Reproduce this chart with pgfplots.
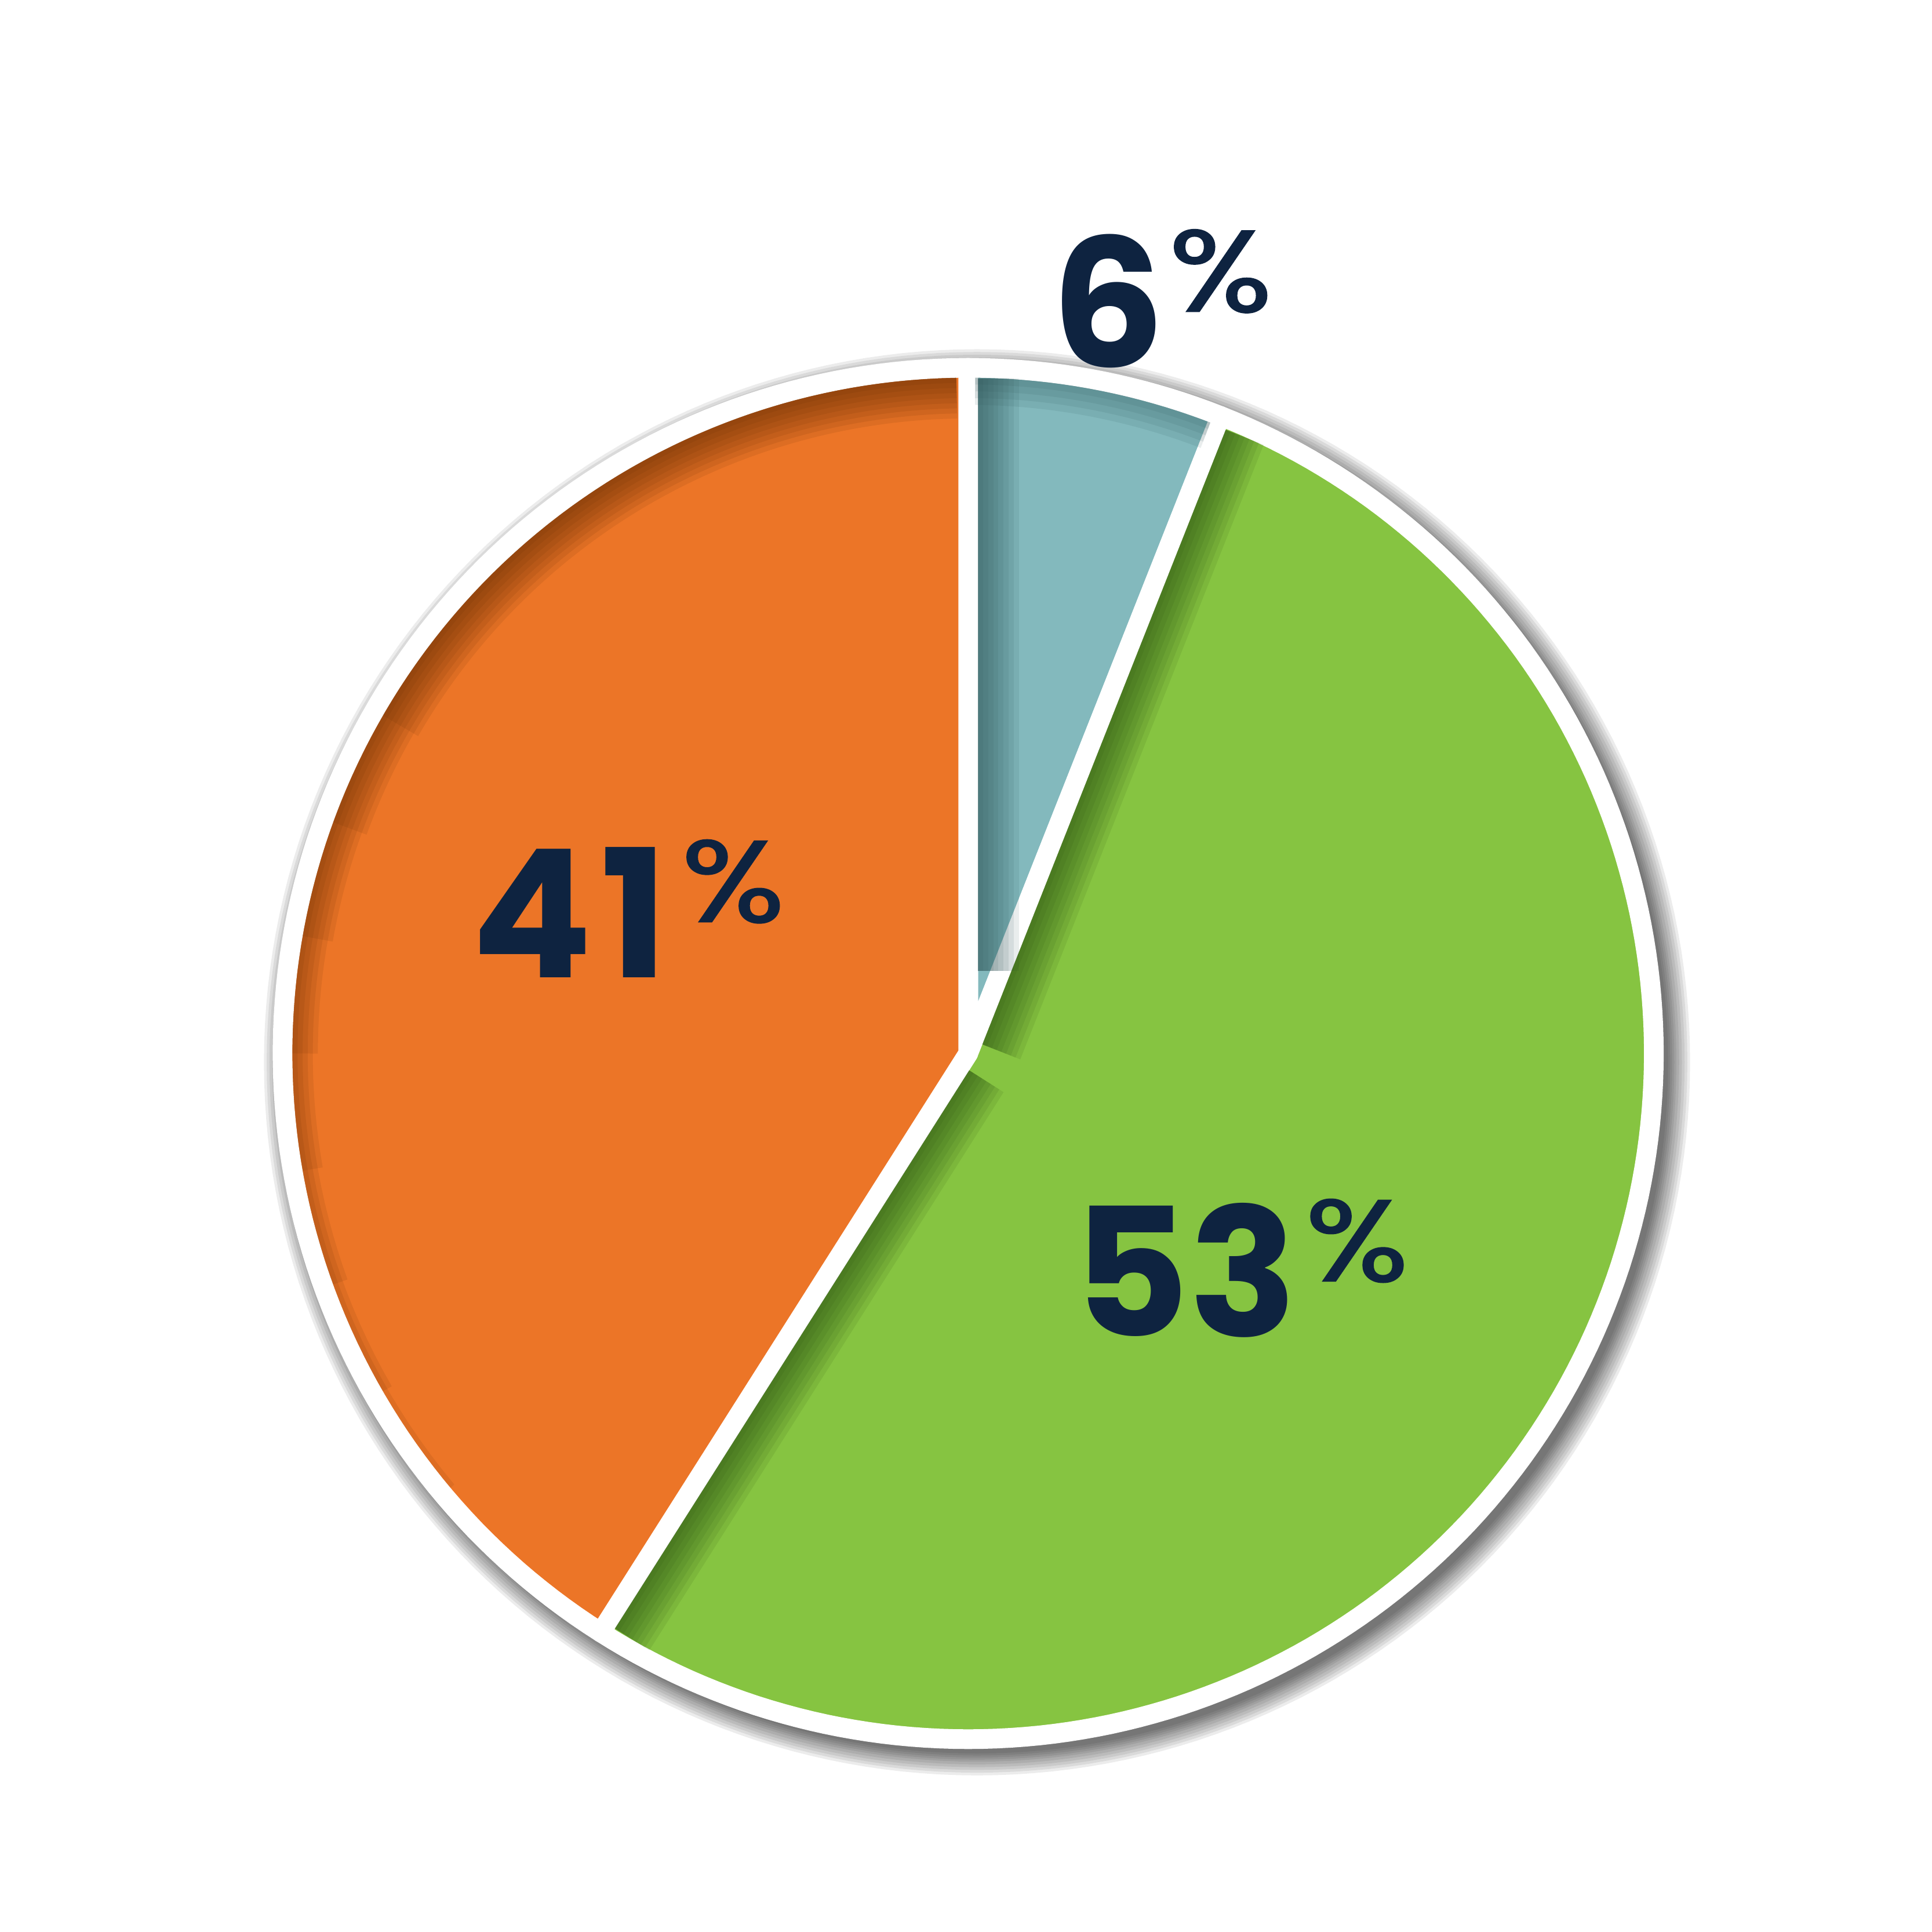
\documentclass[border=0pt]{standalone}
\usepackage{pgfplots}
\pgfplotsset{compat=1.18}
\usepackage{graphicx}
\usepackage{fontspec}
\setmainfont{Poppins}
\newfontfamily\pctfont{Poppins}[FakeBold=1.2]
\definecolor{cblue}{HTML}{83B9BD}
\definecolor{cgreen}{HTML}{86C441}
\definecolor{corange}{HTML}{EC7527}
\definecolor{cnavy}{HTML}{0E2340}
\definecolor{dblue}{HTML}{2A4F52}
\definecolor{dgreen}{HTML}{244A0F}
\definecolor{dorange}{HTML}{5A2800}
% slice values (percent)
\def\vblue{6}
\def\vgreen{53}
\def\vorange{41}
\pgfmathsetmacro\angA{90-3.6*\vblue}
\pgfmathsetmacro\angB{\angA-3.6*\vgreen}
\pgfmathsetmacro\angC{\angB-3.6*\vorange}
\pgfmathsetmacro\permA{\angA-90}
\pgfmathsetmacro\permB{\angB+90}
% band along a straight edge: #1 edge angle, #2 perpendicular angle, #3 colour, #4 width (pt), #5 opacity, #6 start radius
\newcommand\band[6]{%
  \addplot[draw=#3, line width={(#4)*1pt}, opacity=#5, data cs=polar,
    xshift={((1.45+(#4)/2)*cos(#2))*1pt}, yshift={((1.45+(#4)/2)*sin(#2))*1pt}]
    coordinates {(#1,#6) (#1,0.984)};}
\newcommand\bandset[4]{%
  \band{#1}{#2}{#3}{0.75}{0.1}{#4}\band{#1}{#2}{#3}{1.5}{0.1}{#4}%
  \band{#1}{#2}{#3}{2.25}{0.1}{#4}\band{#1}{#2}{#3}{3}{0.1}{#4}%
  \band{#1}{#2}{#3}{3.75}{0.1}{#4}\band{#1}{#2}{#3}{4.5}{0.1}{#4}%
  \band{#1}{#2}{#3}{5.25}{0.1}{#4}\band{#1}{#2}{#3}{6}{0.1}{#4}}
% band along an arc: #1 from, #2 to, #3 colour, #4 width, #5 opacity
\newcommand\arcband[5]{%
  \addplot[draw=#3, line width={(#4)*1pt}, opacity=#5, data cs=polar, domain=#1:#2, samples=80]
    {1-(1.45+(#4)/2)/100.98};}
\newcommand\shadowdisk[1]{%
  \addplot[fill=black, draw=none, fill opacity=0.075, data cs=polar, domain=0:360, samples=241,
    xshift=1.3pt, yshift=-1.3pt] {#1};}
\newcommand\lbl[2]{{\fontsize{26.3}{30}\selectfont\bfseries #1}\hspace{#2}%
  \raisebox{8.2pt}{\scalebox{1.18}[1]{\fontsize{17}{20}\pctfont\%}}}
\begin{document}
\begin{tikzpicture}
\begin{axis}[
  width=10cm, height=10cm, scale only axis, hide axis,
  xmin=-1.412, xmax=1.4056, ymin=-1.2812, ymax=1.5364,
]
\path (rel axis cs:0,0) (rel axis cs:1,1);
% shadow
\shadowdisk{1.040}\shadowdisk{1.036}\shadowdisk{1.032}\shadowdisk{1.028}\shadowdisk{1.024}
\shadowdisk{1.020}\shadowdisk{1.017}\shadowdisk{1.014}\shadowdisk{1.011}\shadowdisk{1.008}
% slices
\addplot[fill=cblue, draw=white, line width=2.9pt, line join=round, data cs=polar, domain=90:\angA, samples=20] {1} -- (axis cs:0,0) -- cycle;
\addplot[fill=cgreen, draw=white, line width=2.9pt, line join=round, data cs=polar, domain=\angA:\angB, samples=160] {1} -- (axis cs:0,0) -- cycle;
\addplot[fill=corange, draw=white, line width=2.9pt, line join=round, data cs=polar, domain=\angB:\angC, samples=120] {1} -- (axis cs:0,0) -- cycle;
% inner shading bands
\bandset{90}{0}{dblue}{0.12}
\bandset{\angA}{\permA}{dgreen}{0.02}
\bandset{\angB}{\permB}{dgreen}{0.02}
\arcband{91}{220}{dorange}{0.75}{0.1}
\arcband{91}{210}{dorange}{1.5}{0.1}
\arcband{91}{200}{dorange}{2.25}{0.1}
\arcband{91}{190}{dorange}{3}{0.1}
\arcband{91}{180}{dorange}{3.75}{0.1}
\arcband{91}{170}{dorange}{4.5}{0.1}
\arcband{91}{160}{dorange}{5.25}{0.1}
\arcband{91}{150}{dorange}{6}{0.1}
\arcband{89.4}{\angA+0.6}{dblue}{1}{0.1}
\arcband{89.4}{\angA+0.6}{dblue}{2}{0.1}
\arcband{89.4}{\angA+0.6}{dblue}{3}{0.1}
\arcband{89.4}{\angA+0.6}{dblue}{4}{0.1}
% labels
\node[anchor=base west, inner sep=0, text=cnavy] at (axis cs:0.119,1.001) {\lbl{6}{0.6pt}};
\node[anchor=base west, inner sep=0, text=cnavy] at (axis cs:-0.726,0.111) {\lbl{4\kern1.2pt 1}{2pt}};
\node[anchor=base west, inner sep=0, text=cnavy] at (axis cs:0.151,-0.413) {\lbl{53}{1.2pt}};
\end{axis}
\end{tikzpicture}
\end{document}
